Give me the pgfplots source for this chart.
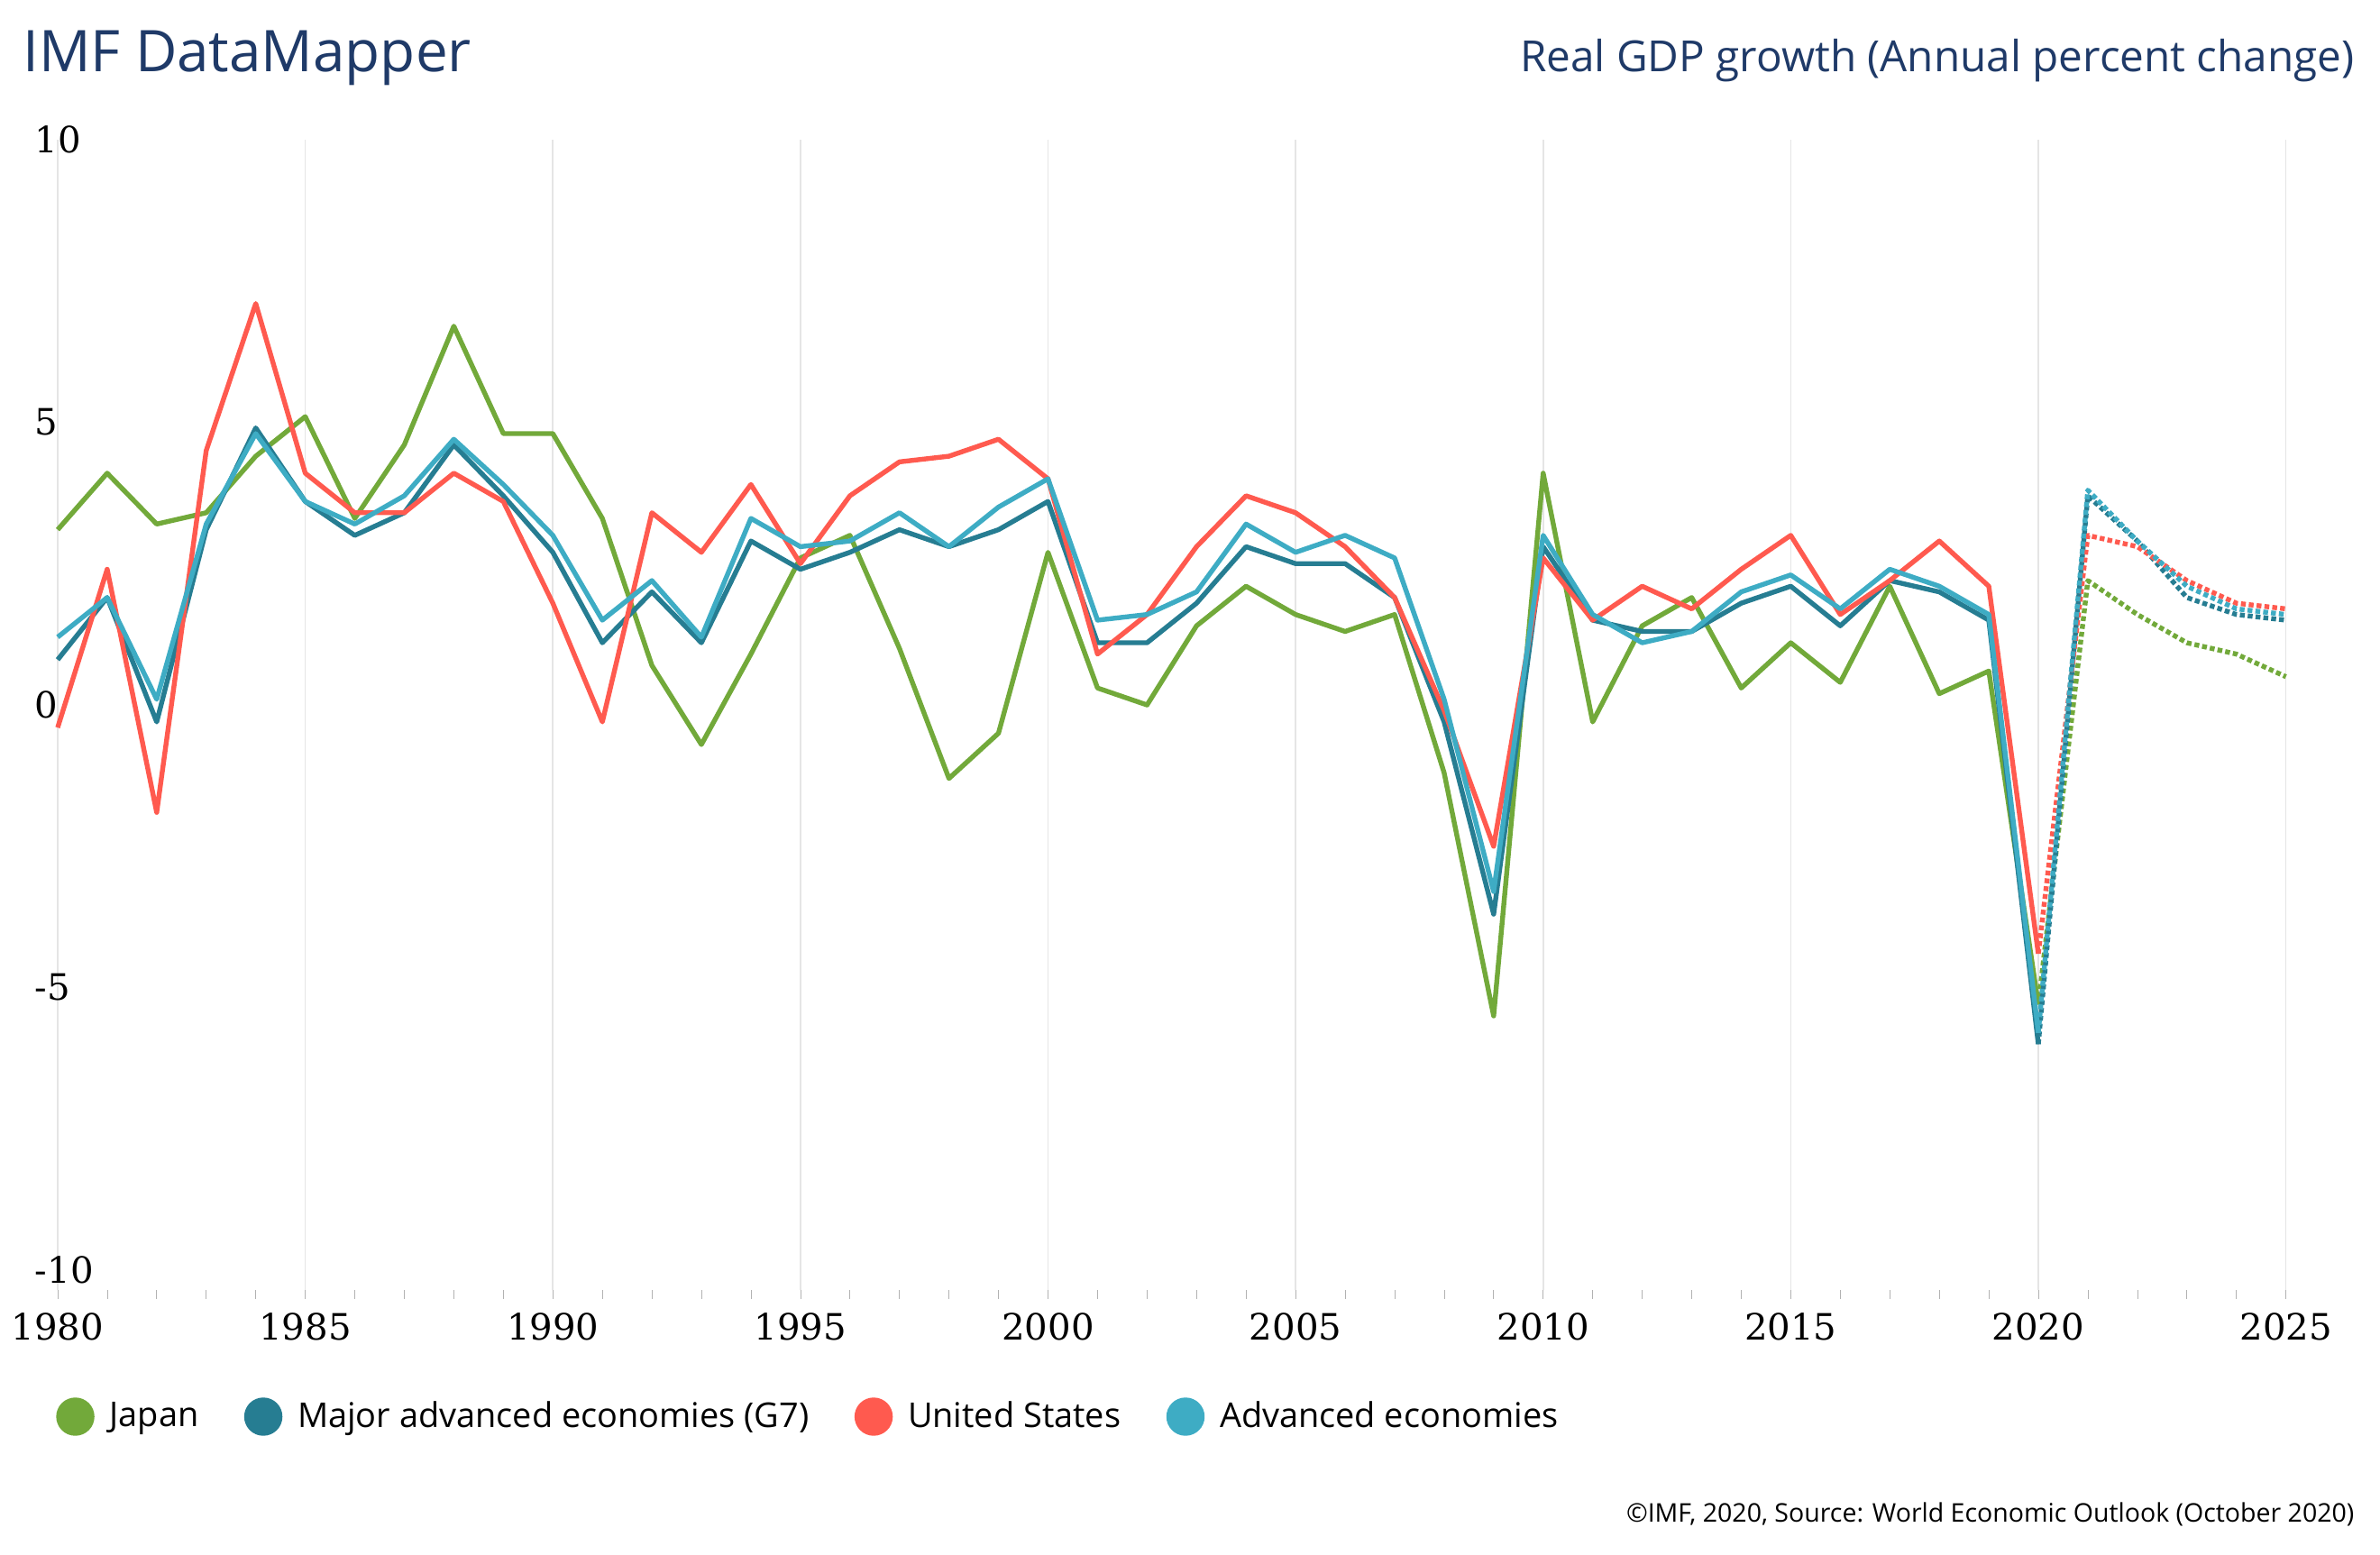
\documentclass[border=0pt]{standalone}
\usepackage{pgfplots}
\pgfplotsset{compat=1.18}
\usepackage{fontspec}
\setmainfont{Open Sans}
\newfontfamily\seriff{DejaVu Serif}
\definecolor{jp}{HTML}{72A93A}
\definecolor{gs}{HTML}{267D92}
\definecolor{us}{HTML}{FF5A4F}
\definecolor{ad}{HTML}{3EACC4}
\definecolor{ttl}{HTML}{1F3A68}
\begin{document}
\begin{tikzpicture}
\path[use as bounding box] (-19bp,-87bp) rectangle (765bp,425bp);
\begin{axis}[
  at={(0,0)}, anchor=south west, scale only axis,
  width=734bp, height=379bp,
  xmin=1980, xmax=2025, ymin=-10.35, ymax=10,
  axis line style={draw=none},
  xtick={1980,1985,...,2025}, minor x tick num=4,
  ytick={-10,-5,0,5,10},
  xmajorgrids, major grid style={gray!20, line width=0.5bp},
  tick align=outside, major tick length=3bp, minor tick length=3bp,
  tick style={gray!60}, xtick pos=bottom, ytick style={draw=none},
  /pgf/number format/set thousands separator={},
  /pgf/number format/assume math mode=true,
  xticklabel style={font=\seriff\fontsize{12}{12}\selectfont, yshift=-1bp},
  yticklabel style={font=\seriff\fontsize{12}{12}\selectfont, anchor=west, xshift=-8bp},
  clip=false,
  legend style={at={(-0.005,-0.11)}, anchor=west, draw=none, fill=none,
    legend columns=4, font=\fontsize{11.3}{11.3}\selectfont,
    /tikz/every odd column/.append style={column sep=3bp},
    /tikz/every even column/.append style={column sep=13bp}},
  legend image code/.code={\fill[#1] (0.15cm,0cm) circle (5.5bp);},
  every axis plot/.append style={line width=1.6bp, line join=round},
]
\addlegendimage{jp}\addlegendentry{Japan}
\addlegendimage{gs}\addlegendentry{Major advanced economies (G7)}
\addlegendimage{us}\addlegendentry{United States}
\addlegendimage{ad}\addlegendentry{Advanced economies}
% Japan
\addplot[jp] coordinates {(1980,3.1)(1981,4.1)(1982,3.2)(1983,3.4)(1984,4.4)(1985,5.1)(1986,3.3)(1987,4.6)(1988,6.7)(1989,4.8)(1990,4.8)(1991,3.3)(1992,0.7)(1993,-0.7)(1994,0.9)(1995,2.6)(1996,3.0)(1997,1.0)(1998,-1.3)(1999,-0.5)(2000,2.7)(2001,0.3)(2002,0.0)(2003,1.4)(2004,2.1)(2005,1.6)(2006,1.3)(2007,1.6)(2008,-1.2)(2009,-5.5)(2010,4.1)(2011,-0.3)(2012,1.4)(2013,1.9)(2014,0.3)(2015,1.1)(2016,0.4)(2017,2.1)(2018,0.2)(2019,0.6)(2020,-5.3)};
\addplot[jp, densely dotted] coordinates {(2020,-5.3)(2021,2.2)(2022,1.6)(2023,1.1)(2024,0.9)(2025,0.5)};
% G7
\addplot[gs] coordinates {(1980,0.8)(1981,1.9)(1982,-0.3)(1983,3.1)(1984,4.9)(1985,3.6)(1986,3.0)(1987,3.4)(1988,4.6)(1989,3.7)(1990,2.7)(1991,1.1)(1992,2.0)(1993,1.1)(1994,2.9)(1995,2.4)(1996,2.7)(1997,3.1)(1998,2.8)(1999,3.1)(2000,3.6)(2001,1.1)(2002,1.1)(2003,1.8)(2004,2.8)(2005,2.5)(2006,2.5)(2007,1.9)(2008,-0.3)(2009,-3.7)(2010,2.8)(2011,1.5)(2012,1.3)(2013,1.3)(2014,1.8)(2015,2.1)(2016,1.4)(2017,2.2)(2018,2.0)(2019,1.5)(2020,-6.0)};
\addplot[gs, densely dotted] coordinates {(2020,-6.0)(2021,3.7)(2022,2.9)(2023,1.9)(2024,1.6)(2025,1.5)};
% US
\addplot[us] coordinates {(1980,-0.4)(1981,2.4)(1982,-1.9)(1983,4.5)(1984,7.1)(1985,4.1)(1986,3.4)(1987,3.4)(1988,4.1)(1989,3.6)(1990,1.8)(1991,-0.3)(1992,3.4)(1993,2.7)(1994,3.9)(1995,2.5)(1996,3.7)(1997,4.3)(1998,4.4)(1999,4.7)(2000,4.0)(2001,0.9)(2002,1.6)(2003,2.8)(2004,3.7)(2005,3.4)(2006,2.8)(2007,1.9)(2008,-0.1)(2009,-2.5)(2010,2.6)(2011,1.5)(2012,2.1)(2013,1.7)(2014,2.4)(2015,3.0)(2016,1.6)(2017,2.2)(2018,2.9)(2019,2.1)(2020,-4.4)};
\addplot[us, densely dotted] coordinates {(2020,-4.4)(2021,3.0)(2022,2.8)(2023,2.2)(2024,1.8)(2025,1.7)};
% Advanced
\addplot[ad] coordinates {(1980,1.2)(1981,1.9)(1982,0.1)(1983,3.2)(1984,4.8)(1985,3.6)(1986,3.2)(1987,3.7)(1988,4.7)(1989,3.9)(1990,3.0)(1991,1.5)(1992,2.2)(1993,1.2)(1994,3.3)(1995,2.8)(1996,2.9)(1997,3.4)(1998,2.8)(1999,3.5)(2000,4.0)(2001,1.5)(2002,1.6)(2003,2.0)(2004,3.2)(2005,2.7)(2006,3.0)(2007,2.6)(2008,0.1)(2009,-3.3)(2010,3.0)(2011,1.6)(2012,1.1)(2013,1.3)(2014,2.0)(2015,2.3)(2016,1.7)(2017,2.4)(2018,2.1)(2019,1.6)(2020,-5.8)};
\addplot[ad, densely dotted] coordinates {(2020,-5.8)(2021,3.8)(2022,2.9)(2023,2.1)(2024,1.7)(2025,1.6)};
\end{axis}
\node[anchor=west, text=ttl, font=\fontsize{19}{19}\selectfont] at (-15bp,406bp) {IMF DataMapper};
\node[anchor=east, text=ttl, font=\fontsize{14.2}{14.2}\selectfont] at (760bp,405bp) {Real GDP growth (Annual percent change)};
\node[anchor=east, font=\fontsize{8.5}{8.5}\selectfont] at (760bp,-74bp) {©IMF, 2020, Source: World Economic Outlook (October 2020)};
\end{tikzpicture}
\end{document}
